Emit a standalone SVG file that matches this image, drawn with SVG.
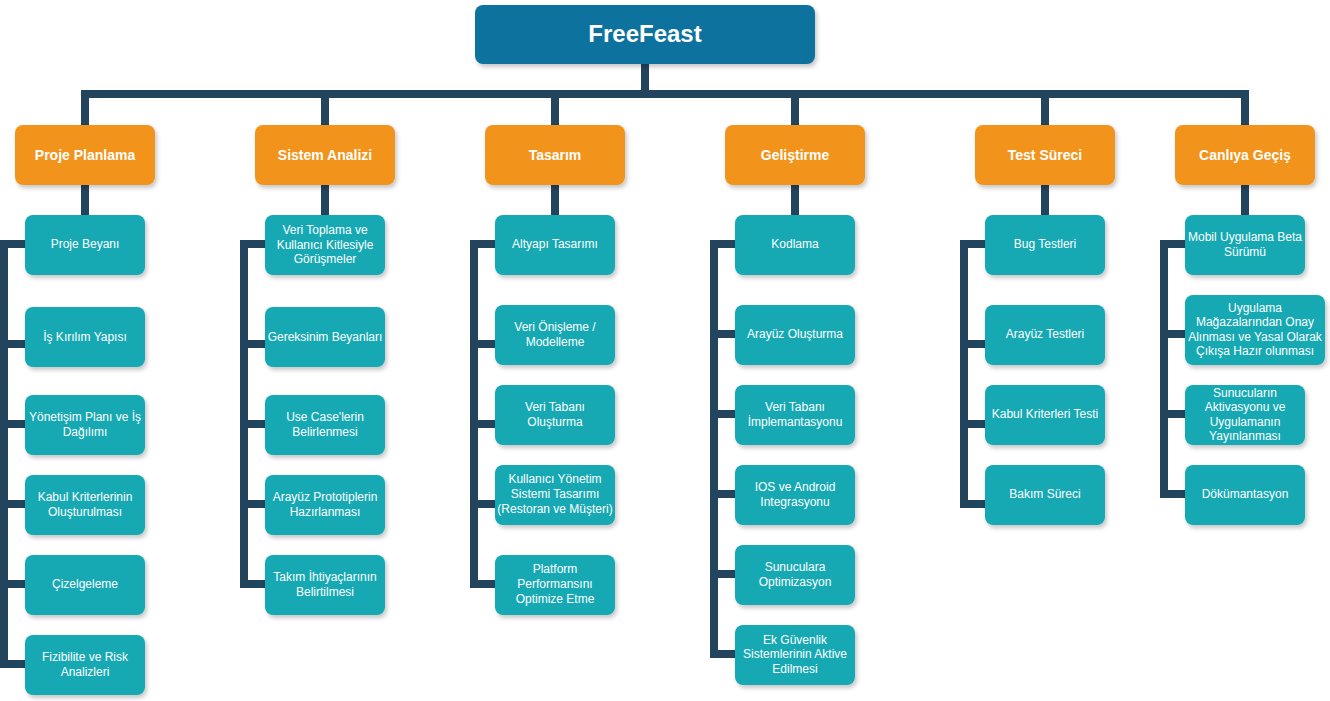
<svg xmlns="http://www.w3.org/2000/svg" width="1330" height="701" viewBox="0 0 1330 701">
<defs>
<filter id="sh" x="-10%" y="-10%" width="130%" height="140%">
<feDropShadow dx="2" dy="3" stdDeviation="2" flood-color="#000" flood-opacity="0.22"/>
</filter>
<style>
.conn{fill:none;stroke:#23445D;stroke-width:8;stroke-linejoin:miter;stroke-linecap:butt}
.root{fill:#10739E;filter:url(#sh)}
.phase{fill:#F2931E;filter:url(#sh)}
.task{fill:#13A9B4;filter:url(#sh)}
text{font-family:"Liberation Sans",Arial,sans-serif;fill:#fff;text-anchor:middle}
.rt{font-size:24px;font-weight:bold}
.pt{font-size:14px;font-weight:bold}
.tt{font-size:12px}
</style>
</defs>
<rect width="1330" height="701" fill="#fff"/>
<g id="connectors">
<path class="conn" d="M645,64 V94"/>
<path class="conn" d="M85,125 V94 H1245 V125"/>
<path class="conn" d="M325,94 V125 M555,94 V125 M795,94 V125 M1045,94 V125"/>
<path class="conn" d="M85,185 V215 M325,185 V215 M555,185 V215 M795,185 V215 M1045,185 V215 M1245,185 V215"/>
<path class="conn" d="M25,244 H4 V664 H25 M4,344 H25 M4,424 H25 M4,504 H25 M4,584 H25"/>
<path class="conn" d="M265,244 H244 V584 H265 M244,344 H265 M244,424 H265 M244,504 H265"/>
<path class="conn" d="M495,244 H474 V584 H495 M474,344 H495 M474,424 H495 M474,504 H495"/>
<path class="conn" d="M735,244 H714 V654 H735 M714,334 H735 M714,414 H735 M714,494 H735 M714,574 H735"/>
<path class="conn" d="M985,244 H964 V504 H985 M964,344 H985 M964,424 H985"/>
<path class="conn" d="M1185,244 H1164 V494 H1185 M1164,334 H1185 M1164,414 H1185"/>
</g>
<g id="root"><rect class="root" x="475" y="5" width="340" height="59" rx="8"/><text class="rt" x="645" y="42">FreeFeast</text></g>
<g id="p1"><rect class="phase" x="15" y="125" width="140" height="60" rx="8"/><text class="pt" x="85" y="160">Proje Planlama</text></g>
<g id="p2"><rect class="phase" x="255" y="125" width="140" height="60" rx="8"/><text class="pt" x="325" y="160">Sistem Analizi</text></g>
<g id="p3"><rect class="phase" x="485" y="125" width="140" height="60" rx="8"/><text class="pt" x="555" y="160">Tasarım</text></g>
<g id="p4"><rect class="phase" x="725" y="125" width="140" height="60" rx="8"/><text class="pt" x="795" y="160">Geliştirme</text></g>
<g id="p5"><rect class="phase" x="975" y="125" width="140" height="60" rx="8"/><text class="pt" x="1045" y="160">Test Süreci</text></g>
<g id="p6"><rect class="phase" x="1175" y="125" width="140" height="60" rx="8"/><text class="pt" x="1245" y="160">Canlıya Geçiş</text></g>

<g id="c1n1"><rect class="task" x="25" y="215" width="120" height="60" rx="8"/><text class="tt" x="85" y="248">Proje Beyanı</text></g>
<g id="c1n2"><rect class="task" x="25" y="307" width="120" height="60" rx="8"/><text class="tt" x="85" y="341">İş Kırılım Yapısı</text></g>
<g id="c1n3"><rect class="task" x="25" y="395" width="120" height="60" rx="8"/><text class="tt"><tspan x="85" y="421">Yönetişim Planı ve İş</tspan><tspan x="85" y="436">Dağılımı</tspan></text></g>
<g id="c1n4"><rect class="task" x="25" y="475" width="120" height="60" rx="8"/><text class="tt"><tspan x="85" y="501">Kabul Kriterlerinin</tspan><tspan x="85" y="516">Oluşturulması</tspan></text></g>
<g id="c1n5"><rect class="task" x="25" y="555" width="120" height="60" rx="8"/><text class="tt" x="85" y="588">Çizelgeleme</text></g>
<g id="c1n6"><rect class="task" x="25" y="635" width="120" height="60" rx="8"/><text class="tt"><tspan x="85" y="661">Fizibilite ve Risk</tspan><tspan x="85" y="676">Analizleri</tspan></text></g>

<g id="c2n1"><rect class="task" x="265" y="215" width="120" height="60" rx="8"/><text class="tt"><tspan x="325" y="234">Veri Toplama ve</tspan><tspan x="325" y="249">Kullanıcı Kitlesiyle</tspan><tspan x="325" y="263">Görüşmeler</tspan></text></g>
<g id="c2n2"><rect class="task" x="265" y="307" width="120" height="60" rx="8"/><text class="tt" x="325" y="341">Gereksinim Beyanları</text></g>
<g id="c2n3"><rect class="task" x="265" y="395" width="120" height="60" rx="8"/><text class="tt"><tspan x="325" y="421">Use Case'lerin</tspan><tspan x="325" y="436">Belirlenmesi</tspan></text></g>
<g id="c2n4"><rect class="task" x="265" y="475" width="120" height="60" rx="8"/><text class="tt"><tspan x="325" y="501">Arayüz Prototiplerin</tspan><tspan x="325" y="516">Hazırlanması</tspan></text></g>
<g id="c2n5"><rect class="task" x="265" y="555" width="120" height="60" rx="8"/><text class="tt"><tspan x="325" y="581">Takım İhtiyaçlarının</tspan><tspan x="325" y="596">Belirtilmesi</tspan></text></g>

<g id="c3n1"><rect class="task" x="495" y="215" width="120" height="60" rx="8"/><text class="tt" x="555" y="248">Altyapı Tasarımı</text></g>
<g id="c3n2"><rect class="task" x="495" y="305" width="120" height="60" rx="8"/><text class="tt"><tspan x="555" y="331">Veri Önişleme /</tspan><tspan x="555" y="346">Modelleme</tspan></text></g>
<g id="c3n3"><rect class="task" x="495" y="385" width="120" height="60" rx="8"/><text class="tt"><tspan x="555" y="411">Veri Tabanı</tspan><tspan x="555" y="426">Oluşturma</tspan></text></g>
<g id="c3n4"><rect class="task" x="495" y="465" width="120" height="60" rx="8"/><text class="tt"><tspan x="555" y="483">Kullanıcı Yönetim</tspan><tspan x="555" y="498">Sistemi Tasarımı</tspan><tspan x="555" y="513">(Restoran ve Müşteri)</tspan></text></g>
<g id="c3n5"><rect class="task" x="495" y="555" width="120" height="60" rx="8"/><text class="tt"><tspan x="555" y="573">Platform</tspan><tspan x="555" y="588">Performansını</tspan><tspan x="555" y="603">Optimize Etme</tspan></text></g>

<g id="c4n1"><rect class="task" x="735" y="215" width="120" height="60" rx="8"/><text class="tt" x="795" y="248">Kodlama</text></g>
<g id="c4n2"><rect class="task" x="735" y="305" width="120" height="60" rx="8"/><text class="tt" x="795" y="338">Arayüz Oluşturma</text></g>
<g id="c4n3"><rect class="task" x="735" y="385" width="120" height="60" rx="8"/><text class="tt"><tspan x="795" y="411">Veri Tabanı</tspan><tspan x="795" y="426">İmplemantasyonu</tspan></text></g>
<g id="c4n4"><rect class="task" x="735" y="465" width="120" height="60" rx="8"/><text class="tt"><tspan x="795" y="491">IOS ve Android</tspan><tspan x="795" y="506">Integrasyonu</tspan></text></g>
<g id="c4n5"><rect class="task" x="735" y="545" width="120" height="60" rx="8"/><text class="tt"><tspan x="795" y="571">Sunuculara</tspan><tspan x="795" y="586">Optimizasyon</tspan></text></g>
<g id="c4n6"><rect class="task" x="735" y="625" width="120" height="60" rx="8"/><text class="tt"><tspan x="795" y="644">Ek Güvenlik</tspan><tspan x="795" y="658">Sistemlerinin Aktive</tspan><tspan x="795" y="673">Edilmesi</tspan></text></g>

<g id="c5n1"><rect class="task" x="985" y="215" width="120" height="60" rx="8"/><text class="tt" x="1045" y="248">Bug Testleri</text></g>
<g id="c5n2"><rect class="task" x="985" y="305" width="120" height="60" rx="8"/><text class="tt" x="1045" y="338">Arayüz Testleri</text></g>
<g id="c5n3"><rect class="task" x="985" y="385" width="120" height="60" rx="8"/><text class="tt" x="1045" y="418">Kabul Kriterleri Testi</text></g>
<g id="c5n4"><rect class="task" x="985" y="465" width="120" height="60" rx="8"/><text class="tt" x="1045" y="498">Bakım Süreci</text></g>

<g id="c6n1"><rect class="task" x="1185" y="215" width="120" height="60" rx="8"/><text class="tt"><tspan x="1245" y="241">Mobil Uygulama Beta</tspan><tspan x="1245" y="256">Sürümü</tspan></text></g>
<g id="c6n2"><rect class="task" x="1185" y="295" width="140" height="70" rx="8"/><text class="tt"><tspan x="1255" y="312">Uygulama</tspan><tspan x="1255" y="326">Mağazalarından Onay</tspan><tspan x="1255" y="341">Alınması ve Yasal Olarak</tspan><tspan x="1255" y="355">Çıkışa Hazır olunması</tspan></text></g>
<g id="c6n3"><rect class="task" x="1185" y="385" width="120" height="60" rx="8"/><text class="tt"><tspan x="1245" y="397">Sunucuların</tspan><tspan x="1245" y="411">Aktivasyonu ve</tspan><tspan x="1245" y="426">Uygulamanın</tspan><tspan x="1245" y="440">Yayınlanması</tspan></text></g>
<g id="c6n4"><rect class="task" x="1185" y="465" width="120" height="60" rx="8"/><text class="tt" x="1245" y="498">Dökümantasyon</text></g>
</svg>
